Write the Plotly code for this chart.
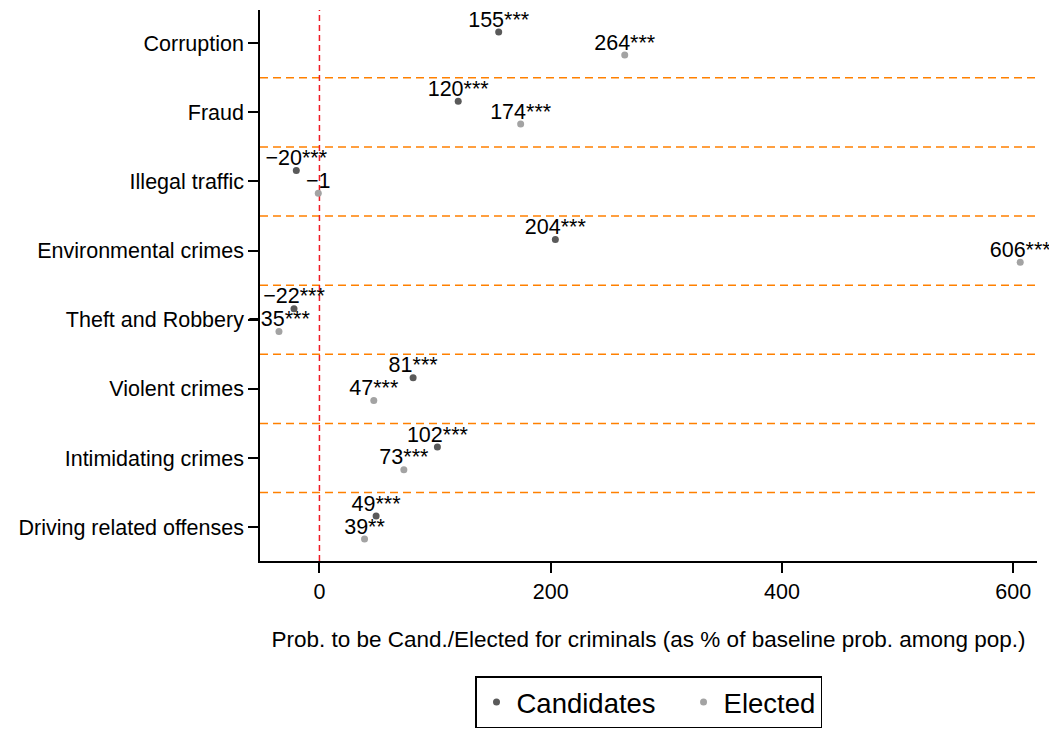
import plotly.graph_objects as go

# crime categories, top to bottom
categories = ["Corruption", "Fraud", "Illegal traffic", "Environmental crimes",
              "Theft and Robbery", "Violent crimes", "Intimidating crimes",
              "Driving related offenses"]

# effect as % of baseline probability among population
candidates = [155, 120, -20, 204, -22, 81, 102, 49]
elected = [264, 174, -1, 606, -35, 47, 73, 39]

# significance stars
candidates_stars = ["***", "***", "***", "***", "***", "***", "***", "***"]
elected_stars = ["***", "***", "", "***", "***", "***", "***", "**"]

FONT = "Liberation Sans, Arial, Helvetica, sans-serif"
CAND_COLOR = "#5a5a5a"
ELEC_COLOR = "#a3a3a3"


def fmt(v, s):
    txt = str(abs(v))
    if v < 0:
        txt = "\u2212" + txt
    return txt + s


pos = list(range(1, len(categories) + 1))
y_cand = [p - 0.16 for p in pos]
y_elec = [p + 0.17 for p in pos]

fig = go.Figure()

# separators between categories
for p in pos[:-1]:
    fig.add_hline(y=p + 0.5, line=dict(color="#ff8000", width=1.5, dash="8px,5px"), layer="below")
fig.add_vline(x=0, line=dict(color="#ee1c25", width=1.5, dash="6px,4px"), layer="below")

# trailing nbsp widens the gap between the two legend entries
fig.add_trace(go.Scatter(
    x=candidates, y=y_cand, mode="markers", name="Candidates\u00a0\u00a0\u00a0",
    marker=dict(color=CAND_COLOR, size=7),
))
fig.add_trace(go.Scatter(
    x=elected, y=y_elec, mode="markers", name="Elected",
    marker=dict(color=ELEC_COLOR, size=7),
))
fig.add_trace(go.Scatter(
    x=candidates, y=y_cand, mode="text", showlegend=False,
    text=[fmt(v, s) for v, s in zip(candidates, candidates_stars)],
    textposition="top center", cliponaxis=False,
    textfont=dict(family=FONT, size=21.5, color="black"),
))
fig.add_trace(go.Scatter(
    x=elected, y=y_elec, mode="text", showlegend=False,
    text=[fmt(v, s) for v, s in zip(elected, elected_stars)],
    textposition="top center", cliponaxis=False,
    textfont=dict(family=FONT, size=21.5, color="black"),
))

fig.update_xaxes(
    range=[-51.4, 620.5], tickvals=[0, 200, 400, 600],
    showgrid=False, zeroline=False, showline=True, linecolor="black", linewidth=1.5,
    ticks="outside", ticklen=10, tickwidth=1.5, tickcolor="black",
    tickfont=dict(family=FONT, size=21.5, color="black"),
    title=dict(text="Prob. to be Cand./Elected for criminals (as % of baseline prob. among pop.)",
               font=dict(family=FONT, size=22.5, color="black"), standoff=29),
)
fig.update_yaxes(
    range=[8.49, 0.52], tickvals=pos, ticktext=categories,
    showgrid=False, zeroline=False, showline=True, linecolor="black", linewidth=1.5,
    ticks="outside", ticklen=10, tickwidth=1.5, tickcolor="black",
    tickfont=dict(family=FONT, size=21.5, color="black"),
)

# page body has an 8px margin, so the figure is shrunk and shifted to compensate
fig.update_layout(
    width=1049, height=741,
    margin=dict(l=252, r=20, t=2, b=188),
    plot_bgcolor="white", paper_bgcolor="white",
    font=dict(family=FONT, size=21.5, color="black"),
    legend=dict(orientation="h", x=0.5, xanchor="center", y=-0.209, yanchor="top",
                bordercolor="black", borderwidth=1.5,
                font=dict(family=FONT, size=27.5, color="black")),
)

fig.write_html("out.html")
